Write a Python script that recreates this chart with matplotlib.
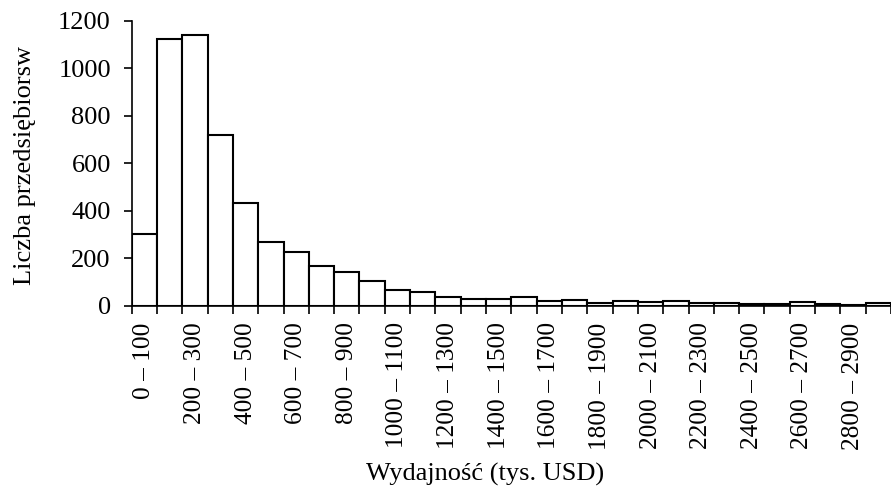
import matplotlib
matplotlib.use("Agg")
import matplotlib.pyplot as plt
import numpy as np

# Data
bin_starts = list(range(0, 3000, 100))
categories = [f"{s} – {s + 100}" for s in bin_starts]
counts = [303, 1123, 1138, 720, 432, 267, 228, 169, 140, 103,
          66, 56, 38, 28, 28, 35, 19, 22, 11, 18,
          15, 20, 11, 10, 9, 7, 15, 7, 4, 10]
y_ticks = [0, 200, 400, 600, 800, 1000, 1200]

plt.rcParams['font.family'] = ['Liberation Serif', 'DejaVu Serif']
FS_Y = 19
FS_X = 18.3
FS_LAB = 19

fig = plt.figure(figsize=(8.91, 4.92), dpi=100)
W, H = 891, 492
left, right, bottom, top = 131.7, 891, 305.7, 20.7
ax = fig.add_axes([left / W, 1 - bottom / H, (right - left) / W, (bottom - top) / H])

x = np.arange(len(counts))
ax.bar(x, counts, width=1.0, align='edge', facecolor='white',
       edgecolor='black', linewidth=1.5, clip_on=True)

ax.set_xlim(0, (right - left) / 25.45)
ax.set_ylim(0, 1200)

for s in ['top', 'right']:
    ax.spines[s].set_visible(False)
for s in ['left', 'bottom']:
    ax.spines[s].set_linewidth(1.2)

ax.set_yticks(y_ticks)
ax.set_yticklabels([str(v) for v in y_ticks], fontsize=FS_Y)
ax.tick_params(axis='y', direction='out', length=6, width=1.2, pad=9)

# major ticks at bin edges, labels at every other bin center
ax.set_xticks(np.arange(0, len(counts) + 1))
ax.set_xticklabels([])
ax.tick_params(axis='x', which='major', direction='out', length=5.5, width=1.2)
centers = x[::2] + 0.5
ax.set_xticks(centers, minor=True)
ax.set_xticklabels(categories[::2], minor=True, rotation=90, fontsize=FS_X,
                   va='top', ha='center')
ax.tick_params(axis='x', which='minor', length=0, pad=12)

fig.text(25 / W, 1 - 165 / H, "Liczba przedsiębiorsw", rotation=90,
         ha='center', va='center', fontsize=FS_LAB)
fig.text(485 / W, 1 - 474 / H, "Wydajność (tys. USD)", ha='center',
         va='center', fontsize=FS_LAB)

fig.savefig("out.png", dpi=100)
